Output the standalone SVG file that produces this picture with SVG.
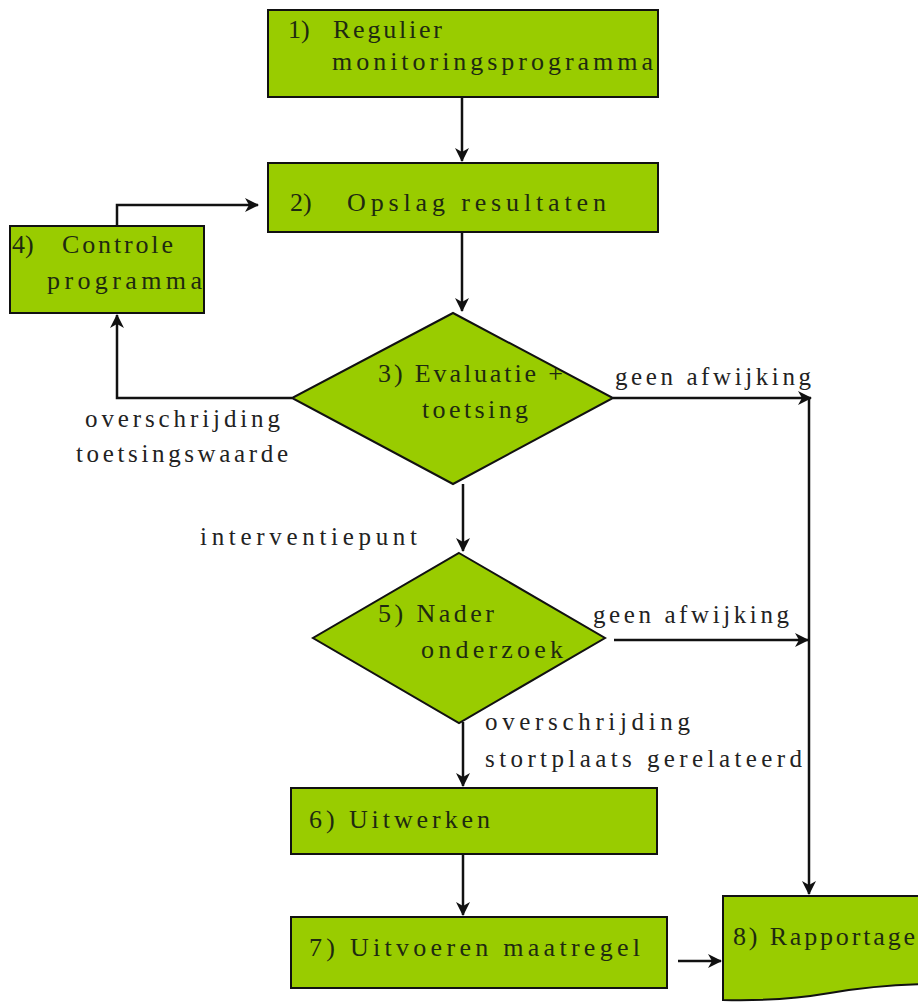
<svg xmlns="http://www.w3.org/2000/svg" width="918" height="1003" viewBox="0 0 918 1003">
<style>
.n{fill:#99CC00;stroke:#111;stroke-width:2}
.t{font-family:"Liberation Serif","Times New Roman",serif;font-size:26px;fill:#1e2a10}
.l{font-family:"Liberation Serif","Times New Roman",serif;font-size:25px;fill:#222}
.c{fill:none;stroke:#111;stroke-width:2.5}
</style>
<defs>
<marker id="a" markerWidth="14" markerHeight="14" viewBox="0 0 14 14" refX="13" refY="7" orient="auto" markerUnits="userSpaceOnUse">
<path d="M0,0 L14,7 L0,14 L4,7 z" fill="#111"/>
</marker>
</defs>
<rect width="918" height="1003" fill="#fff"/>
<g id="connectors">
<path class="c" d="M462,97 V161" marker-end="url(#a)"/>
<path class="c" d="M117,226 V205 H258" marker-end="url(#a)"/>
<path class="c" d="M462,232 V311" marker-end="url(#a)"/>
<path class="c" d="M292,398 H117 V315" marker-end="url(#a)"/>
<path class="c" d="M613,398 H811" marker-end="url(#a)"/>
<path class="c" d="M809,398 V894" marker-end="url(#a)"/>
<path class="c" d="M463,484 V551" marker-end="url(#a)"/>
<path class="c" d="M614,640 H808" marker-end="url(#a)"/>
<path class="c" d="M463,722 V786" marker-end="url(#a)"/>
<path class="c" d="M463,854 V915" marker-end="url(#a)"/>
<path class="c" d="M678,961 H721" marker-end="url(#a)"/>
</g>
<g id="n1"><rect class="n" x="268" y="10" width="390" height="87"/>
<text class="t" x="288" y="38">1)</text><text class="t" x="333" y="38" textLength="109" lengthAdjust="spacing">Regulier</text>
<text class="t" x="332" y="70" textLength="321" lengthAdjust="spacing">monitoringsprogramma</text></g>
<g id="n2"><rect class="n" x="268" y="163" width="390" height="69"/>
<text class="t" x="290" y="211">2)</text><text class="t" x="347" y="211" textLength="259" lengthAdjust="spacing">Opslag resultaten</text></g>
<g id="n4"><rect class="n" x="10" y="226" width="194" height="87"/>
<text class="t" x="12" y="253">4)</text><text class="t" x="62" y="253" textLength="111" lengthAdjust="spacing">Controle</text>
<text class="t" x="47" y="289" textLength="155" lengthAdjust="spacing">programma</text></g>
<g id="n3"><polygon class="n" points="453,313 613,398 453,484 292,398"/>
<text class="t" x="378" y="382" textLength="185" lengthAdjust="spacing">3) Evaluatie +</text>
<text class="t" x="422" y="418" textLength="106" lengthAdjust="spacing">toetsing</text></g>
<g id="n5"><polygon class="n" points="459,553 605,638 459,723 313,638"/>
<text class="t" x="378" y="622" textLength="116" lengthAdjust="spacing">5) Nader</text>
<text class="t" x="421" y="658" textLength="142" lengthAdjust="spacing">onderzoek</text></g>
<g id="n6"><rect class="n" x="291" y="788" width="366" height="66"/>
<text class="t" x="309" y="828" textLength="181" lengthAdjust="spacing">6) Uitwerken</text></g>
<g id="n7"><rect class="n" x="291" y="917" width="376" height="71"/>
<text class="t" x="309" y="956" textLength="331" lengthAdjust="spacing">7) Uitvoeren maatregel</text></g>
<g id="n8"><path class="n" d="M723,896 H940 V984 C895,984 860,988 830,993 C795,999 760,1001 723,1000 Z"/>
<text class="t" x="733" y="945" textLength="182" lengthAdjust="spacing">8) Rapportage</text></g>
<g id="labels">
<text class="l" x="615" y="385" textLength="196" lengthAdjust="spacing">geen afwijking</text>
<text class="l" x="85" y="427" textLength="195" lengthAdjust="spacing">overschrijding</text>
<text class="l" x="76" y="462" textLength="212" lengthAdjust="spacing">toetsingswaarde</text>
<text class="l" x="200" y="545" textLength="217" lengthAdjust="spacing">interventiepunt</text>
<text class="l" x="593" y="623" textLength="196" lengthAdjust="spacing">geen afwijking</text>
<text class="l" x="485" y="730" textLength="205" lengthAdjust="spacing">overschrijding</text>
<text class="l" x="485" y="767" textLength="317" lengthAdjust="spacing">stortplaats gerelateerd</text>
</g>
</svg>
